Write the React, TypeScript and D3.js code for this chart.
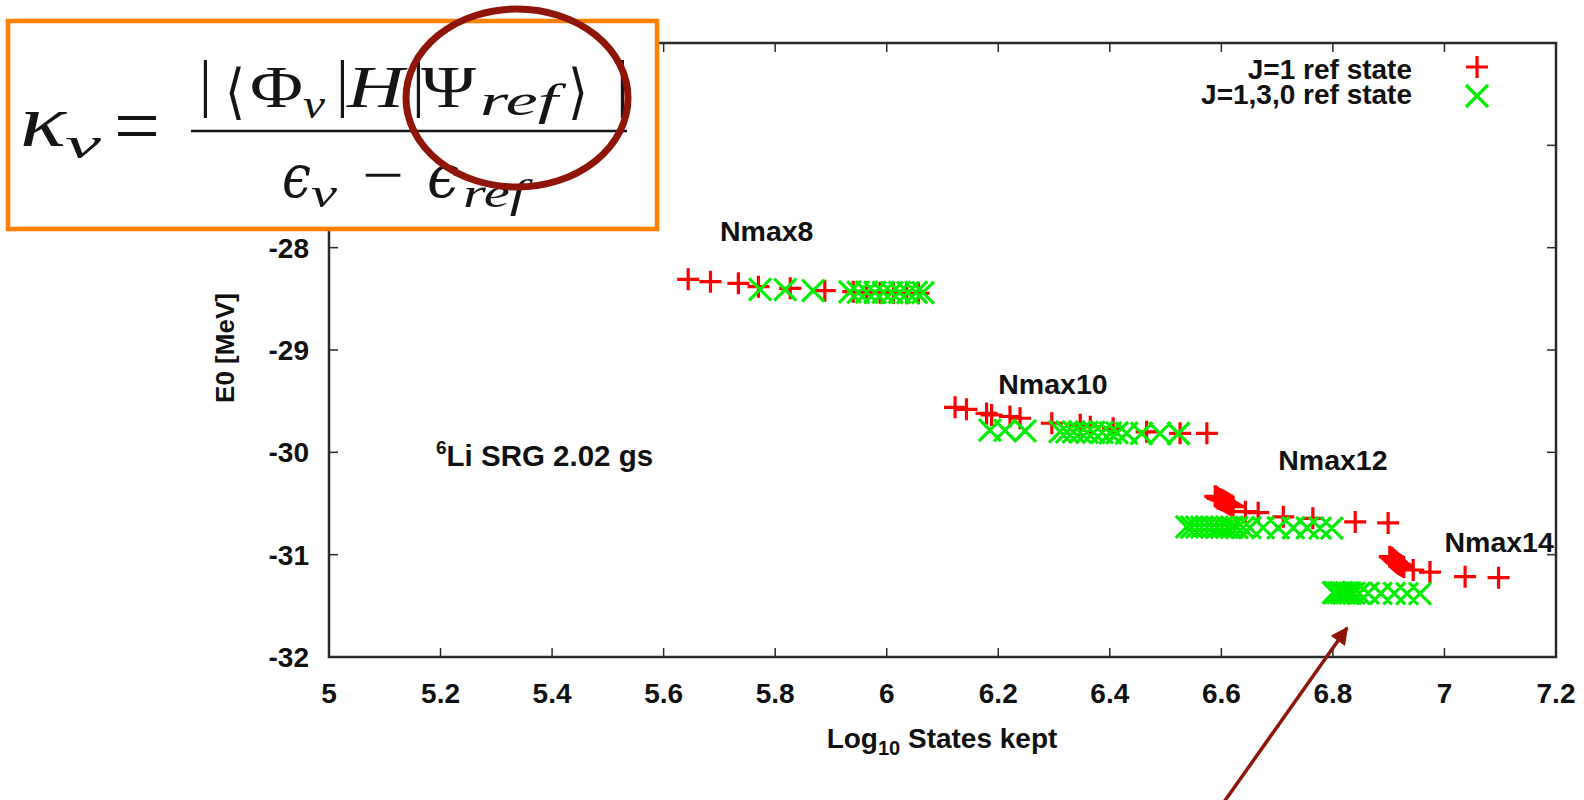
import React from "react";
import * as d3 from "d3";

// Axis ticks
const xTicks = [5, 5.2, 5.4, 5.6, 5.8, 6, 6.2, 6.4, 6.6, 6.8, 7, 7.2];
const xTickLabels = ["5", "5.2", "5.4", "5.6", "5.8", "6", "6.2", "6.4", "6.6", "6.8", "7", "7.2"];
const yTicks = [-32, -31, -30, -29, -28, -27, -26];
const yTickLabels = ["-32", "-31", "-30", "-29", "-28", "-27", "-26"];

// Ground-state energy E0 [MeV] vs log10(states kept), J=1 reference state
const j1Nmax8: [number, number][] = [
  [5.644, -28.309], [5.684, -28.332], [5.734, -28.348], [5.77, -28.381], [5.827, -28.397],
  [5.889, -28.42], [5.94, -28.43], [5.964, -28.436], [5.988, -28.44], [6.012, -28.443],
  [6.036, -28.446], [6.057, -28.446],
];
const j1Nmax10: [number, number][] = [
  [6.1225, -29.56], [6.143, -29.58], [6.179, -29.62], [6.188, -29.635], [6.221, -29.65],
  [6.239, -29.667], [6.296, -29.716], [6.347, -29.73], [6.365, -29.75], [6.406, -29.765],
  [6.466, -29.8], [6.526, -29.814], [6.574, -29.814],
];
const j1Nmax12: [number, number][] = [
  [6.589, -30.43], [6.592, -30.44], [6.594, -30.45], [6.597, -30.455], [6.6, -30.465],
  [6.603, -30.47], [6.606, -30.48], [6.609, -30.49], [6.612, -30.5], [6.615, -30.51],
  [6.618, -30.52], [6.621, -30.53], [6.643, -30.58], [6.666, -30.59], [6.711, -30.63],
  [6.764, -30.645], [6.84, -30.68], [6.899, -30.69],
];
const j1Nmax14: [number, number][] = [
  [6.902, -31.02], [6.905, -31.03], [6.907, -31.04], [6.909, -31.05], [6.911, -31.06],
  [6.913, -31.07], [6.915, -31.08], [6.918, -31.09], [6.921, -31.1], [6.924, -31.11],
  [6.927, -31.12], [6.944, -31.15], [6.974, -31.17], [7.037, -31.215], [7.097, -31.225],
];

// J=1,3,0 reference state
const j130Nmax8: [number, number][] = [
  [5.773, -28.407], [5.818, -28.41], [5.868, -28.42], [5.934, -28.432], [5.949, -28.436],
  [5.964, -28.434], [5.979, -28.438], [5.994, -28.436], [6.009, -28.44], [6.023, -28.438],
  [6.038, -28.44], [6.053, -28.438], [6.065, -28.44],
];
const j130Nmax10: [number, number][] = [
  [6.185, -29.782], [6.212, -29.785], [6.248, -29.79], [6.311, -29.798], [6.323, -29.8],
  [6.335, -29.8], [6.347, -29.802], [6.359, -29.804], [6.371, -29.806], [6.386, -29.806],
  [6.401, -29.81], [6.413, -29.81], [6.43, -29.812], [6.457, -29.814], [6.49, -29.814],
  [6.523, -29.816],
];
const j130Nmax12: [number, number][] = [
  [6.538, -30.728], [6.547, -30.73], [6.556, -30.73], [6.565, -30.732], [6.574, -30.73],
  [6.583, -30.732], [6.592, -30.734], [6.601, -30.732], [6.61, -30.734], [6.619, -30.734],
  [6.628, -30.736], [6.639, -30.736], [6.651, -30.736], [6.675, -30.736], [6.702, -30.738],
  [6.729, -30.738], [6.754, -30.738], [6.777, -30.74], [6.798, -30.74],
];
const j130Nmax14: [number, number][] = [
  [6.801, -31.37], [6.804, -31.372], [6.809, -31.374], [6.815, -31.372], [6.82, -31.376],
  [6.825, -31.374], [6.831, -31.376], [6.838, -31.376], [6.847, -31.378], [6.863, -31.376],
  [6.886, -31.378], [6.91, -31.378], [6.933, -31.38], [6.956, -31.38],
];

const j1Points = [...j1Nmax8, ...j1Nmax10, ...j1Nmax12, ...j1Nmax14];
const j130Points = [...j130Nmax8, ...j130Nmax10, ...j130Nmax12, ...j130Nmax14];

const seriesNames = ["J=1 ref state", "J=1,3,0 ref state"];
const seriesColors = ["#ff0000", "#00ee00"];

// Block labels placed at (x, E0) of their text baseline start
const groupLabels: { text: string; x: number; y: number }[] = [
  { text: "Nmax8", x: 5.701, y: -27.93 },
  { text: "Nmax10", x: 6.2, y: -29.43 },
  { text: "Nmax12", x: 6.702, y: -30.17 },
  { text: "Nmax14", x: 7.0, y: -30.97 },
];

const W = 1584;
const H = 800;
const plot = { left: 329, right: 1556, top: 43, bottom: 657 };
const sansBold = "'Liberation Sans', Arial, sans-serif";
const mathFont = "'Liberation Serif', 'DejaVu Serif', serif";
const brown = "#8e1508";
const ink = "#111";

const x = d3.scaleLinear().domain([5, 7.2]).range([plot.left, plot.right]);
const y = d3.scaleLinear().domain([-32, -26]).range([plot.bottom, plot.top]);

const MS = 11;
const plusPath = (cx: number, cy: number) =>
  `M${cx - MS},${cy}H${cx + MS}M${cx},${cy - MS}V${cy + MS}`;
const crossPath = (cx: number, cy: number) =>
  `M${cx - MS},${cy - MS}L${cx + MS},${cy + MS}M${cx - MS},${cy + MS}L${cx + MS},${cy - MS}`;

export default function App() {
  const tickLen = 9;
  return (
    <svg
      width={W}
      height={H}
      viewBox={`0 0 ${W} ${H}`}
      style={{ position: "absolute", left: 0, top: 0, background: "#fff" }}
    >
      <rect x={0} y={0} width={W} height={H} fill="#fff" />

      {/* frame */}
      <rect
        x={plot.left}
        y={plot.top}
        width={plot.right - plot.left}
        height={plot.bottom - plot.top}
        fill="none"
        stroke="#2a2a2a"
        strokeWidth={2.5}
      />

      {/* x ticks, mirrored on the top edge */}
      {xTicks.map((t, i) => (
        <g key={"xt" + i}>
          <line x1={x(t)} x2={x(t)} y1={plot.bottom} y2={plot.bottom - tickLen} stroke="#2a2a2a" strokeWidth={1.5} />
          <line x1={x(t)} x2={x(t)} y1={plot.top} y2={plot.top + tickLen} stroke="#2a2a2a" strokeWidth={1.5} />
          <text
            x={x(t)}
            y={703}
            textAnchor="middle"
            fontFamily={sansBold}
            fontWeight="bold"
            fontSize={28}
            fill={ink}
          >
            {xTickLabels[i]}
          </text>
        </g>
      ))}

      {/* y ticks, mirrored on the right edge */}
      {yTicks.map((t, i) => (
        <g key={"yt" + i}>
          <line x1={plot.left} x2={plot.left + tickLen} y1={y(t)} y2={y(t)} stroke="#2a2a2a" strokeWidth={1.5} />
          <line x1={plot.right} x2={plot.right - tickLen} y1={y(t)} y2={y(t)} stroke="#2a2a2a" strokeWidth={1.5} />
          <text
            x={309}
            y={y(t) + 10}
            textAnchor="end"
            fontFamily={sansBold}
            fontWeight="bold"
            fontSize={28}
            fill={ink}
          >
            {yTickLabels[i]}
          </text>
        </g>
      ))}

      {/* axis titles */}
      <text x={942} y={748} textAnchor="middle" fontFamily={sansBold} fontWeight="bold" fontSize={28} fill={ink}>
        Log
        <tspan fontSize={20} dy={7}>10</tspan>
        <tspan dy={-7}> States kept</tspan>
      </text>
      <text
        transform="translate(234,348) rotate(-90)"
        textAnchor="middle"
        fontFamily={sansBold}
        fontWeight="bold"
        fontSize={26}
        fill={ink}
      >
        E0 [MeV]
      </text>

      {/* data: J=1 first, J=1,3,0 drawn over it */}
      <path
        d={j1Points.map(([a, b]) => plusPath(x(a), y(b))).join("")}
        fill="none"
        stroke={seriesColors[0]}
        strokeWidth={3.2}
      />
      <path
        d={j130Points.map(([a, b]) => crossPath(x(a), y(b))).join("")}
        fill="none"
        stroke={seriesColors[1]}
        strokeWidth={3.2}
      />

      {/* block labels */}
      {groupLabels.map((g) => (
        <text
          key={g.text}
          x={x(g.x)}
          y={y(g.y)}
          fontFamily={sansBold}
          fontWeight="bold"
          fontSize={28.5}
          fill={ink}
        >
          {g.text}
        </text>
      ))}

      <text x={445} y={466} fontFamily={sansBold} fontWeight="bold" fontSize={29.5} fill={ink}>
        <tspan x={436} dy={-12} fontSize={19}>6</tspan>
        <tspan dy={12}>Li SRG 2.02 gs</tspan>
      </text>

      {/* legend */}
      {seriesNames.map((s, i) => (
        <g key={s}>
          <text
            x={1412}
            y={79 + i * 24.5}
            textAnchor="end"
            fontFamily={sansBold}
            fontWeight="bold"
            fontSize={28}
            fill={ink}
          >
            {s}
          </text>
          <path
            d={i === 0 ? plusPath(1477, 67) : crossPath(1477, 96)}
            fill="none"
            stroke={seriesColors[i]}
            strokeWidth={3.2}
          />
        </g>
      ))}

      {/* formula box */}
      <rect x={8} y={21} width={649} height={208} fill="#fff" stroke="#ff8000" strokeWidth={4.5} />
      <g fontFamily={mathFont} fill="#151515">
        <text x={20} y={146} fontSize={74} fontStyle="italic" textLength={46} lengthAdjust="spacingAndGlyphs">κ</text>
        <text x={65} y={158} fontSize={44} fontStyle="italic" textLength={36} lengthAdjust="spacingAndGlyphs">ν</text>
        <text x={114} y={153} fontSize={80} textLength={46} lengthAdjust="spacingAndGlyphs">=</text>

        <text x={199} y={104} fontSize={64}>|</text>
        <text x={225} y={112} fontSize={60} fontFamily="'DejaVu Serif', serif" textLength={20} lengthAdjust="spacingAndGlyphs">⟨</text>
        <text x={250} y={107} fontSize={60} textLength={53} lengthAdjust="spacingAndGlyphs">Φ</text>
        <text x={303} y={118} fontSize={42} fontStyle="italic" textLength={22} lengthAdjust="spacingAndGlyphs">ν</text>
        <text x={336} y={104} fontSize={64}>|</text>
        <text x={347} y={107} fontSize={60} fontStyle="italic" textLength={57} lengthAdjust="spacingAndGlyphs">H</text>
        <text x={412} y={104} fontSize={64}>|</text>
        <text x={421} y={107} fontSize={60} textLength={55} lengthAdjust="spacingAndGlyphs">Ψ</text>
        <text x={480} y={115} fontSize={44} fontStyle="italic" textLength={78} lengthAdjust="spacingAndGlyphs">ref</text>
        <text x={568} y={112} fontSize={60} fontFamily="'DejaVu Serif', serif" textLength={20} lengthAdjust="spacingAndGlyphs">⟩</text>
        <text x={616} y={104} fontSize={64}>|</text>

        <line x1={191} x2={627} y1={131} y2={131} stroke="#151515" strokeWidth={2.5} />

        <text x={282} y={197} fontSize={60} fontFamily="'DejaVu Serif', serif" fontStyle="italic" textLength={29} lengthAdjust="spacingAndGlyphs">ϵ</text>
        <text x={311} y={207} fontSize={42} fontStyle="italic" textLength={26} lengthAdjust="spacingAndGlyphs">ν</text>
        <text x={362} y={195} fontSize={60} textLength={42} lengthAdjust="spacingAndGlyphs">−</text>
        <text x={427} y={197} fontSize={60} fontFamily="'DejaVu Serif', serif" fontStyle="italic" textLength={32} lengthAdjust="spacingAndGlyphs">ϵ</text>
        <text x={463} y={207} fontSize={40} fontStyle="italic" textLength={63} lengthAdjust="spacingAndGlyphs">ref</text>
      </g>
      <ellipse cx={517} cy={98} rx={111} ry={89} fill="none" stroke={brown} strokeWidth={7} />

      {/* pointer arrow */}
      <defs>
        <marker id="arrowHead" viewBox="0 0 10 10" refX={9} refY={5} markerWidth={6} markerHeight={5} orient="auto" markerUnits="strokeWidth">
          <path d="M0,0L10,5L0,10Z" fill={brown} />
        </marker>
      </defs>
      <line x1={1224} y1={802} x2={1347} y2={628} stroke={brown} strokeWidth={3.5} markerEnd="url(#arrowHead)" />
    </svg>
  );
}
